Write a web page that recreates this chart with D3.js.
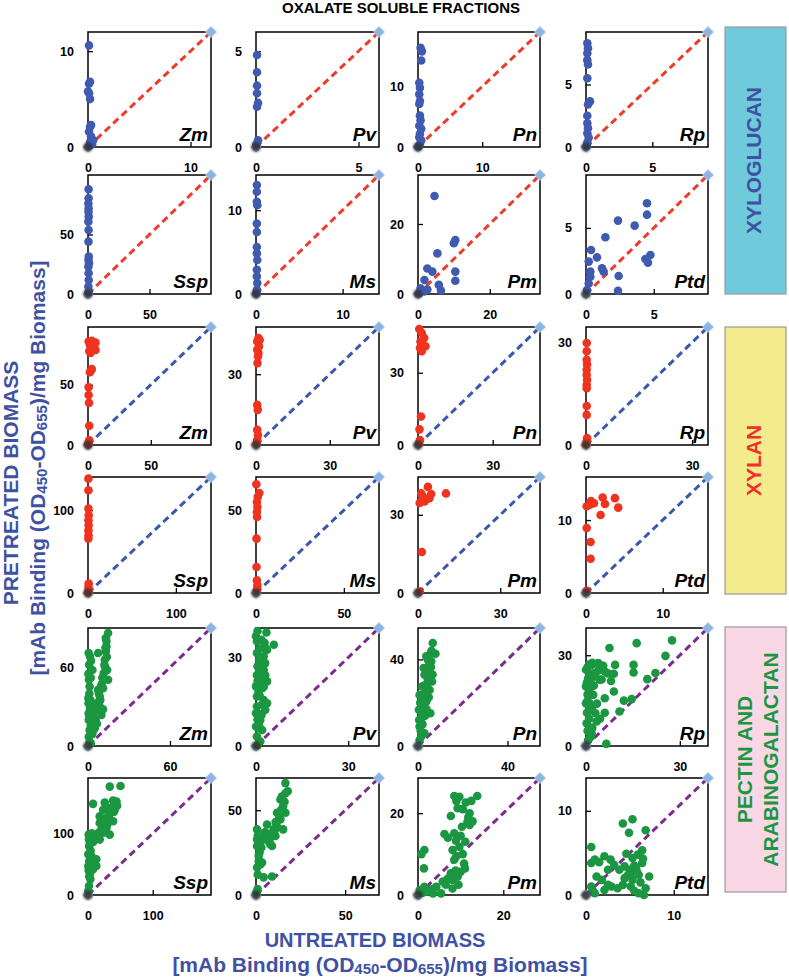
<!DOCTYPE html>
<html>
<head>
<meta charset="utf-8">
<script src="https://cdn.jsdelivr.net/npm/d3@7"></script>
<style>
body { margin: 0; background: #fff; }
text { font-family: "Liberation Sans", Arial, sans-serif; }
</style>
</head>
<body>
<script>
// Species labels for the upper and lower row of each polysaccharide group
const speciesTop = ["Zm", "Pv", "Pn", "Rp"];
const speciesBottom = ["Ssp", "Ms", "Pm", "Ptd"];
const groupNames = ["XYLOGLUCAN", "XYLAN", "PECTIN AND ARABINOGALACTAN"];

// Axis maximum (same for x and y) and second tick value of each panel, row by row
const axisMax = [
  [12, 6, 19, 9.2],
  [100, 14.2, 34, 9],
  [98, 50, 49, 34.5],
  [140, 70, 44.5, 15.9],
  [90, 40, 54.5, 39],
  [190, 69, 28.6, 13.9]
];
const tickStep = [
  [10, 5, 10, 5],
  [50, 10, 20, 5],
  [50, 30, 30, 30],
  [100, 50, 30, 10],
  [60, 30, 40, 30],
  [100, 50, 20, 10]
];

// [untreated, pretreated] mAb binding
// xyloglucan
const xgZm = [[0.1,10.6],[0.2,6.8],[0.1,6.6],[0,5.8],[0.1,5.6],[0.2,5.0],[0.3,2.3],[0.2,2.1],[0.1,1.6],[0.3,1.1],[0.5,0.7],[0.2,0.5],[0.4,0.3],[0.1,0.1]];
const xgPv = [[0.05,4.8],[0.05,3.9],[0.05,3.2],[0.05,2.8],[0.1,2.3],[0.05,2.1],[0.1,0.35],[0.02,0.15]];
const xgPn = [[0.4,16.4],[0.6,15.8],[0.5,14.3],[0.2,10.6],[0.3,9.8],[0.2,8.7],[0.3,7.6],[0.2,7.1],[0.3,5.2],[0.4,4.4],[0.2,3.5],[0.5,3.0],[0.3,2.2],[0.2,1.6],[0.5,1.1],[0.3,0.5],[0.1,0.1]];
const xgRp = [[0.1,8.3],[0.15,7.9],[0.1,7.5],[0.1,6.95],[0.15,6.6],[0.1,5.5],[0.3,3.65],[0.15,3.4],[0.1,2.5],[0.1,1.9],[0.15,1.5],[0.1,1.1],[0.2,0.75],[0.1,0.35],[0.05,0.1]];
const xgSsp = [[0.5,88],[0.5,80.4],[0.3,76],[0.5,72],[0.4,69],[0.6,65],[0.3,60.8],[0.5,53.8],[0.4,44],[0.6,31.4],[0.4,28.6],[0.8,25.8],[0.3,23],[0.5,17.4],[0.6,11.8],[0.3,6.2],[0.5,2]];
const xgMs = [[0.1,13.0],[0.1,12.2],[0.1,11.0],[0.15,10.6],[0.1,8.4],[0.1,7.4],[0.1,5.6],[0.1,4.85],[0.15,4.05],[0.1,2.9],[0.1,2.1],[0.15,1.3],[0.1,0.5],[0.05,0.1]];
const xgPm = [[4.6,28],[5.4,11.6],[10.4,15.4],[10.0,14.5],[2.6,7.3],[4.0,6.4],[10.4,6.4],[10.4,3.8],[5.8,2.6],[6.4,1.0],[1.8,4.0],[0.7,1.6],[1.7,0.7],[2.6,1.3],[0.3,0.2]];
const xgPtd = [[4.5,6.86],[4.5,6.0],[2.36,5.55],[3.59,5.17],[1.43,4.29],[0.37,3.33],[0.81,2.77],[0.2,2.45],[1.18,1.94],[1.3,1.69],[2.41,1.36],[4.38,2.65],[4.75,2.95],[4.57,2.37],[2.36,0.25],[0.32,1.31],[0.2,0.8],[0.07,0.3],[0.32,1.69]];
// xylan
const xyZm = [[0.5,86],[3,86.5],[6,85],[1.5,83],[4,80],[6,79],[1,78],[2,76.5],[3,63],[1.5,60.5],[0.5,48],[0.5,41.5],[0.8,35],[1,16],[1,4],[0.5,2],[0.2,0.5]];
const xyPv = [[1,45.3],[1.5,44.5],[0.5,43.9],[1.2,41.8],[0.5,40.4],[1,39],[0.8,37.5],[0.6,34.7],[0.5,17],[0.7,14.9],[0.5,6.4],[0.8,4.2],[0.5,2.1],[0.3,0.7]];
const xyPn = [[0.5,48.2],[1.5,46.5],[2.5,44.4],[1,43],[2,41.6],[3,41],[0.8,40.3],[1.5,38.9],[1.2,11.8],[0.6,6.5],[0.8,2.1],[0.4,0.7]];
const xyRp = [[0.2,29.8],[0.2,27.4],[0.2,24.9],[0.3,23.5],[0.2,22],[0.2,20.5],[0.3,19.1],[0.2,17.6],[0.2,16.6],[0.2,11.4],[0.2,8.8],[0.3,2],[0.2,1],[0.1,0.3]];
const xySsp = [[0.5,138],[0.5,124],[0.5,101.8],[0.8,93.7],[0.5,87.7],[0.7,81.7],[0.5,75.6],[0.6,69.6],[0.4,65.6],[0.8,11.3],[0.5,7.2],[0.7,3.2],[0.3,0.8]];
const xyMs = [[0.2,65.6],[1.9,60.3],[1.0,57.9],[0.5,54.9],[0.8,51.9],[0.5,48.9],[0.6,45.9],[0.3,32.8],[0.3,15.7],[0.5,7.6],[0.8,4.6],[0.4,1.6]];
const xyPm = [[3.6,40.7],[1.2,38.2],[1.8,37],[0.6,34.5],[2.4,35.1],[4.2,36.4],[4.8,38],[3,36],[10.2,38.2],[1.4,15.7],[0.6,0.6]];
const xyPtd = [[0.65,12.6],[1.04,12.3],[0.09,11.9],[0.52,12.1],[2.17,13.1],[2.47,12.2],[3.77,13.0],[4.2,11.7],[1.9,10.7],[0.09,8.9],[0.6,7.0],[0.6,4.7],[0.1,0.3]];
// pectin and arabinogalactan
const peZm = [[14.7,86.2],[13,82.3],[7.4,70.9],[13,72.2],[12.3,65.8],[14,58],[14.7,50.5],[11,44.1],[8.6,37.7],[6.1,31.4],[3.7,22.4],[2.5,14.8],[8.6,30.1],[9.8,23.7],[4.9,13.5],[6.1,27.5],[11.5,55.6],[7.4,42.8],[1.2,45.4],[0.3,36.5],[0.7,50.5],[3.2,58],[0.5,70.9],[1.5,68.3],[0.8,62],[0.4,32.6],[1.5,28.8],[0.6,19.9],[1.2,12.2],[0.5,7.1],[1.2,3.3],[2,2],[12.5,60.5],[13.5,76],[10,47],[9,35],[5,18],[3,9],
  [1,40],[2,52],[0.5,25],[1.8,35],[2.5,30],[4,26],[5.5,20],[7,33],[8,40],[9.5,45],[10.5,52],[12,62],[13.8,68],[11,28],[6.5,17],[3.5,11],[2,16],[1,22],[0.3,55],[2.2,65],[13.5,80],[12.8,75]];
const pePv = [[0,37.2],[0.3,35.5],[3.4,38.5],[5.8,34.3],[3.6,32.6],[2.5,30.4],[0.3,31.5],[3,28.1],[2.5,25.8],[3.6,21.9],[1.4,21.3],[0,20.2],[0.3,16.8],[2.5,15.6],[3,12.2],[0.3,13.4],[1.4,8.8],[0,6.6],[2,5.4],[0.3,3.2],[1.4,1.5],[0,11.1],[0.9,24.7],[2,19.6],[3.6,14.5],[0.5,0.3],[1.2,33],[2.2,27],[1.8,10.5],[0.8,18.5],
  [0.5,27],[1,29],[1.5,23],[0.5,22],[1.2,17],[2,14],[0.8,11],[0.5,9],[1,6],[2.5,20],[3,24],[3.2,33],[2.8,35],[1.8,36],[0.5,39],[1,7],[0.3,24]];
const pePn = [[6.6,47.6],[7.8,42.6],[3.7,41.4],[5.9,39.1],[5.2,35.2],[4.4,30.6],[3.4,25.9],[0.7,23.6],[5.2,25.9],[3.7,20.5],[5.5,15.1],[1.5,12.8],[0.7,9],[2.2,18.2],[2.9,5.9],[0.7,2.8],[6.3,29.8],[4.4,39.8],[2.9,32.9],[1.9,27.5],[0.4,16.7],[5.8,36.5],[4.8,22.5],[3.2,14],[1.5,4.5],[6.5,33],
  [3,28],[4,33],[4.8,37],[5,42],[6,44],[2.5,21],[1.8,16],[1,20],[2,10],[1.2,7],[3.5,24],[4.2,27],[5.5,31],[0.5,12],[2.5,36],[3.8,17]];
const peRp = [[7.5,32.4],[16.2,34],[27.5,34.9],[25.4,29.8],[1.8,26.8],[3.9,27.4],[9.3,26.8],[15.2,26.8],[15.2,24.3],[6,24.6],[8.9,23.9],[22.2,24.1],[19.6,22.1],[0,25.2],[0.7,22.4],[2.3,16.9],[6,15.8],[8.9,18],[12.1,15],[14.6,15.5],[10.7,11.4],[6,11],[3.4,8.1],[3,10.8],[0.2,7.5],[0,14.1],[1.8,4.2],[6.5,0.7],[0.7,2],[0,19.7],[1.8,19.7],[4.4,21.9],[4.8,26.5],[2.5,24],[1,12],[2,6],[0.5,17],[5,22],
  [0.5,26],[1,24],[1.5,21],[0.3,21],[1,18],[0.5,15],[1.2,14],[2,13],[0.3,11],[1,9],[0.5,5],[1.5,3],[2.5,20],[3,23],[4,25],[5.5,26.5],[7,24],[2,27.5],[1,27],[8,21.5],[3.5,14],[4.5,9],[1.5,6]];
const peSsp = [[33.6,176],[50.2,177],[7.8,148],[25.9,150],[38.8,153.5],[44,151.9],[18.1,127.7],[33.6,133],[18.1,117],[28.5,109],[38.8,119.7],[23.3,101],[33.6,98],[1,98],[10.4,93],[18.1,90],[1.6,79.4],[5.2,63.3],[12.9,58],[7.8,41.9],[0.5,66],[0.5,47.2],[3.6,25.8],[1.6,15],[0.5,7],[12.9,47.2],[41.4,138.5],[23.3,138.5],[28,125],[36,142],[22,112],[30,115],[8,86],[4,72],[10,52],[3,35],
  [2,55],[3,85],[6,100],[9,95],[14,92],[20,105],[25,118],[32,128],[40,135],[45,145],[2,30],[1,40],[4,45],[6,55],[1.5,90],[15,100],[26,102],[30,140],[20,122]];
const peMs = [[16.5,66],[17.8,61.2],[13.7,56.3],[15.2,52.4],[11.8,48.5],[16.5,48.5],[12.8,44.6],[15.2,38.7],[9.9,38.7],[6.2,41.6],[0.6,38.7],[8.1,33.8],[4.3,32.8],[0.6,32.8],[9,28.9],[0.6,28.9],[1.5,20.1],[3.4,19.2],[0.6,16.2],[4.3,10.4],[9,10.9],[0.9,3.5],[0.3,1.6],[13.7,44.6],[10.9,34.8],[14.5,58],[16,55],[12,40],[7.5,31],[2,25],
  [1,35],[2,30],[3,28],[5,37],[7,36],[8,30],[11,43],[13,47],[14,50],[15,56],[16.5,60],[10.5,38],[6.5,34],[1.5,23],[2.5,18],[1,12]];
const pePm = [[8.5,24.2],[9.7,24],[13.9,24.2],[11.2,22.6],[9.3,21.2],[12.1,20],[7.7,19.3],[11.6,17.9],[12.1,17.1],[6.2,14.9],[8.5,15.1],[10.3,16.7],[8.9,13.3],[11.1,13],[8.1,11],[0.8,10],[1.5,11],[1.4,6.5],[10.8,7.7],[8.5,8.6],[7.7,5.3],[9.3,4.5],[8.1,3.7],[5.8,3.3],[8.1,1.6],[4.3,2],[2.7,1.2],[1.5,2],[0.4,1.2],[5.4,0.4],[10,5.7],[9.7,11.8],[3.5,0.4],
  [9,23],[10.5,21],[12.5,23],[11.8,19],[12.8,18],[10,14.5],[7,14],[9,9.5],[10.5,10],[8.8,6],[7,4],[6.5,2.5],[3.5,1.5],[2,0.8],[1,0.5],[9.5,2.5],[11,6.5]];
const pePtd = [[4.2,8.5],[5.3,9],[4.9,7.4],[6.8,7.7],[0.6,5.7],[0.6,3.8],[1,4.2],[2.1,4.6],[2.8,4.2],[4.4,3.4],[5.3,4.4],[6.4,5.3],[6.4,3.8],[5.7,3.2],[4.4,2],[5.3,1.8],[7.2,2.2],[6,2.4],[3.8,3],[1.8,1.8],[2.9,1],[2.1,0.6],[1,0.2],[6,0.2],[6.6,0],[5.1,1],[3.6,0.8],[0.6,1],[5.9,4.8],[5.1,2.6],[2.5,3],[4.6,4.9],
  [5.5,3.5],[5.8,2.8],[6.2,1.5],[5,3],[4.8,2.4],[6.5,4.3],[3.2,3.6],[1.5,3.9],[4.2,1.2],[6.8,0.8],[5.5,0.5],[2.5,1.2],[0.8,0.5],[1.2,2.2]];

const panelData = [
  [xgZm, xgPv, xgPn, xgRp],
  [xgSsp, xgMs, xgPm, xgPtd],
  [xyZm, xyPv, xyPn, xyRp],
  [xySsp, xyMs, xyPm, xyPtd],
  [peZm, pePv, pePn, peRp],
  [peSsp, peMs, pePm, pePtd]
];

// Layout
const colLeft = [88, 256, 418, 586];
const colWidth = [123, 123, 122, 122];
const rowTop = [32, 175, 327, 477, 628, 778];
const rowHeight = [115, 119, 118, 116, 118, 117];

const dotColor = ["#3f5bb0", "#f0331f", "#1b9641"];
const lineColor = ["#ef3b2b", "#3c58ad", "#7b2c8c"];
const titleBlue = "#3f51a3";

const svg = d3.select("body").append("svg")
    .attr("width", 789)
    .attr("height", 980);

// soft blur for the dark blob at the origin
svg.append("defs").append("filter")
    .attr("id", "blur")
    .attr("x", "-50%").attr("y", "-50%").attr("width", "200%").attr("height", "200%")
    .append("feGaussianBlur").attr("stdDeviation", 1.2);

const diamond = d3.symbol().type(d3.symbolSquare).size(62);
const fmt = d3.format("~g");

panelData.forEach((row, r) => {
    const grp = Math.floor(r / 2);
    const names = r % 2 === 0 ? speciesTop : speciesBottom;

    row.forEach((data, c) => {
        const w = colWidth[c], h = rowHeight[r];
        const m = axisMax[r][c];

        const x = d3.scaleLinear().domain([0, m]).range([0, w]);
        const y = d3.scaleLinear().domain([0, m]).range([h, 0]);

        const g = svg.append("g")
            .attr("transform", `translate(${colLeft[c]},${rowTop[r]})`);

        g.append("rect")
            .attr("width", w).attr("height", h)
            .attr("fill", "none")
            .attr("stroke", "#000")
            .attr("stroke-width", 1.5);

        // x axis (ticks point inside)
        g.append("g")
            .attr("transform", `translate(0,${h})`)
            .call(d3.axisBottom(x).tickValues([0, tickStep[r][c]]).tickFormat(fmt)
                .tickSizeInner(-5).tickSizeOuter(0).tickPadding(16))
            .call(a => a.select(".domain").remove());

        // y axis
        g.append("g")
            .call(d3.axisLeft(y).tickValues([0, tickStep[r][c]]).tickFormat(fmt)
                .tickSizeInner(-5).tickSizeOuter(0).tickPadding(14))
            .call(a => a.select(".domain").remove());

        g.selectAll(".tick line").attr("stroke", "#000").attr("stroke-width", 1.3);
        g.selectAll(".tick text")
            .attr("font-size", "12.5px")
            .attr("font-weight", "bold")
            .attr("font-family", "Liberation Sans, Arial, sans-serif")
            .attr("fill", "#000");

        // 1:1 line
        g.append("line")
            .attr("x1", x(0)).attr("y1", y(0))
            .attr("x2", x(m)).attr("y2", y(m))
            .attr("stroke", lineColor[grp])
            .attr("stroke-width", 3)
            .attr("stroke-dasharray", "7,4.5");

        g.append("path")
            .attr("d", diamond)
            .attr("transform", `translate(${x(0)},${y(0)}) rotate(45)`)
            .attr("fill", "#8db4e2");

        g.selectAll(".dot")
            .data(data)
            .enter()
            .append("circle")
            .attr("class", "dot")
            .attr("cx", d => x(d[0]))
            .attr("cy", d => y(d[1]))
            .attr("r", 4.3)
            .attr("fill", dotColor[grp]);

        g.append("circle")
            .attr("cx", x(0)).attr("cy", y(0))
            .attr("r", 4.8)
            .attr("fill", "#333")
            .attr("opacity", 0.85)
            .attr("filter", "url(#blur)");

        g.append("path")
            .attr("d", diamond)
            .attr("transform", `translate(${x(m)},${y(m)}) rotate(45)`)
            .attr("fill", "#8db4e2")
            .attr("stroke", "#b5cfee")
            .attr("stroke-width", 0.8);

        g.append("text")
            .attr("x", w - 3)
            .attr("y", h - 6)
            .attr("text-anchor", "end")
            .attr("font-size", "19px")
            .attr("font-weight", "bold")
            .attr("font-style", "italic")
            .text(names[c]);
    });
});

// Title
svg.append("text")
    .attr("x", 401).attr("y", 13)
    .attr("text-anchor", "middle")
    .attr("font-size", "15px")
    .attr("font-weight", "bold")
    .text("OXALATE SOLUBLE FRACTIONS");

// axis titles with OD subscripts
function bindingLabel(sel) {
    sel.append("tspan").text("[mAb Binding (OD");
    sel.append("tspan").attr("font-size", "15px").attr("dy", 2).text("450");
    sel.append("tspan").attr("dy", -2).text("-OD");
    sel.append("tspan").attr("font-size", "15px").attr("dy", 2).text("655");
    sel.append("tspan").attr("dy", -2).text(")/mg Biomass]");
}

svg.append("text")
    .attr("transform", "translate(18,483) rotate(-90)")
    .attr("text-anchor", "middle")
    .attr("font-size", "21px").attr("font-weight", "bold")
    .attr("fill", titleBlue)
    .text("PRETREATED BIOMASS");

svg.append("text")
    .attr("transform", "translate(45,468) rotate(-90)")
    .attr("text-anchor", "middle")
    .attr("font-size", "21px").attr("font-weight", "bold")
    .attr("fill", titleBlue)
    .call(bindingLabel);

svg.append("text")
    .attr("x", 375).attr("y", 947)
    .attr("text-anchor", "middle")
    .attr("font-size", "20px").attr("font-weight", "bold")
    .attr("fill", titleBlue)
    .text("UNTREATED BIOMASS");

svg.append("text")
    .attr("x", 380).attr("y", 972)
    .attr("text-anchor", "middle")
    .attr("font-size", "21px").attr("font-weight", "bold")
    .attr("fill", titleBlue)
    .call(bindingLabel);

// Group boxes on the right
const boxes = [
    { y0: 27, y1: 294, fill: "#6fcadc", color: "#3f51a3", lines: [groupNames[0]], base: [761] },
    { y0: 327, y1: 594, fill: "#f4ec8c", color: "#f0302a", lines: [groupNames[1]], base: [761] },
    { y0: 627, y1: 892, fill: "#f9d7e5", color: "#1b9641", lines: ["PECTIN AND", "ARABINOGALACTAN"], base: [752, 778] }
];

boxes.forEach(b => {
    svg.append("rect")
        .attr("x", 725).attr("y", b.y0)
        .attr("width", 61).attr("height", b.y1 - b.y0)
        .attr("fill", b.fill)
        .attr("stroke", "#9a9a9a")
        .attr("stroke-width", 1.2);
    const cy = (b.y0 + b.y1) / 2;
    b.lines.forEach((t, j) => {
        svg.append("text")
            .attr("transform", `translate(${b.base[j]},${cy}) rotate(-90)`)
            .attr("text-anchor", "middle")
            .attr("font-size", "21px").attr("font-weight", "bold")
            .attr("fill", b.color)
            .text(t);
    });
});
</script>
</body>
</html>
